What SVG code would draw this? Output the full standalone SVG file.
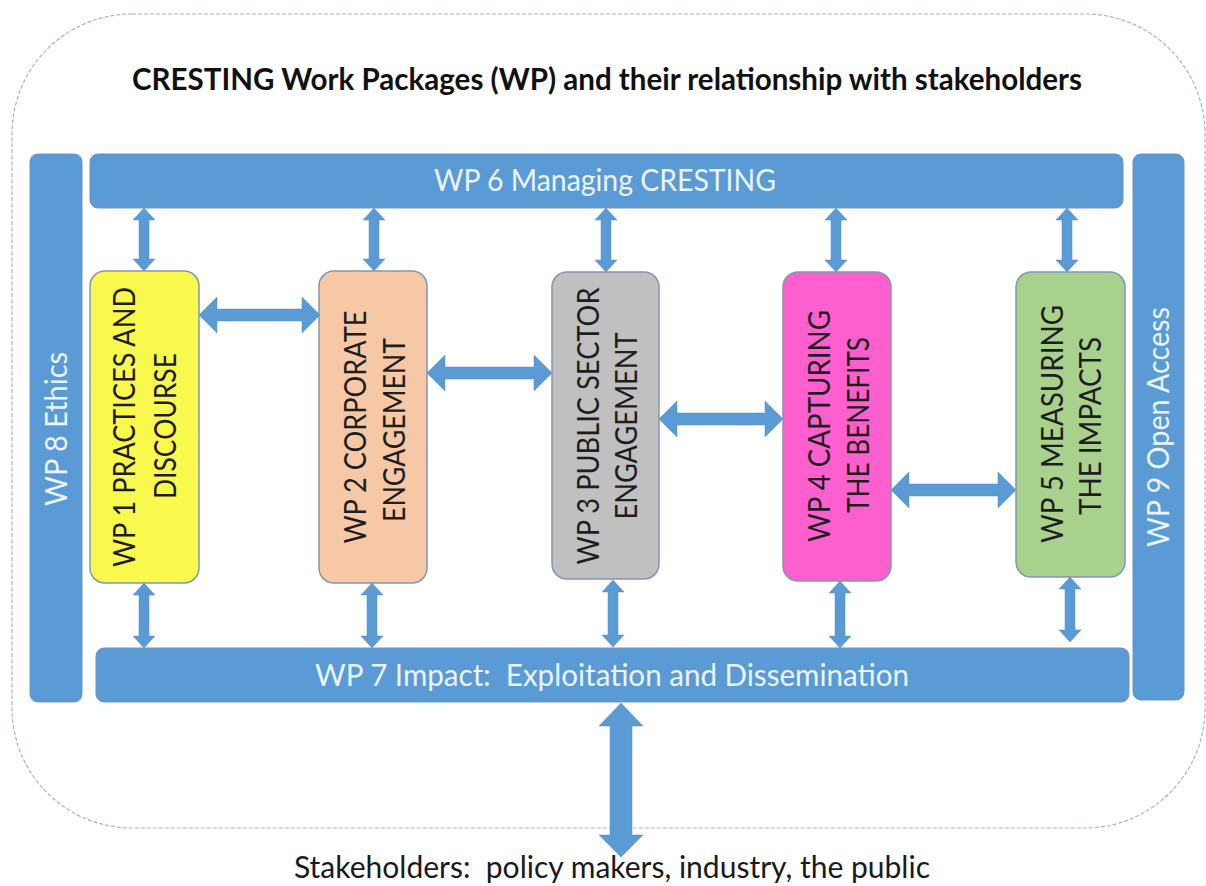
<svg xmlns="http://www.w3.org/2000/svg" width="1206" height="886" viewBox="0 0 1206 886">
<style>
  .bar { fill: #5b9bd5; stroke: #6f93bd; stroke-width: 1; }
  .box { stroke: #8497b0; stroke-width: 1.5; }
  .arrow { fill: #5b9bd5; stroke: #5a8fc4; stroke-width: 0.5; }
  .wt { font-family: Lato, "Open Sans", "Liberation Sans", sans-serif; font-size: 30px; fill: #eaf4ff; text-anchor: middle; }
  .bt { font-family: Lato, "Open Sans", "Liberation Sans", sans-serif; font-size: 30px; fill: #1e1e1e; text-anchor: middle; }
  .title { font-family: Lato, "Open Sans", "Liberation Sans", sans-serif; font-size: 30px; font-weight: bold; fill: #111111; text-anchor: middle; }
  .foot { font-family: Lato, "Open Sans", "Liberation Sans", sans-serif; font-size: 30px; fill: #1a1a1a; text-anchor: middle; }
</style>

<rect id="frame" x="12" y="14" width="1193" height="814" rx="120" ry="120" fill="#ffffff" stroke="#a3b6ca" stroke-width="1.2" stroke-dasharray="4 2"/>

<text id="title" class="title" x="607" y="90" textLength="950" lengthAdjust="spacingAndGlyphs">CRESTING Work Packages (WP) and their relationship with stakeholders</text>

<g id="wp8">
  <rect class="bar" x="30" y="154" width="52" height="548" rx="8"/>
  <text class="wt" transform="translate(67,429) rotate(-90)" textLength="154" lengthAdjust="spacingAndGlyphs">WP 8 Ethics</text>
</g>

<g id="wp9">
  <rect class="bar" x="1133" y="154" width="51" height="546" rx="8"/>
  <text class="wt" transform="translate(1169,427) rotate(-90)" textLength="240" lengthAdjust="spacingAndGlyphs">WP 9 Open Access</text>
</g>

<g id="wp6">
  <rect class="bar" x="90" y="154" width="1033" height="54" rx="8"/>
  <text class="wt" x="605" y="191" textLength="342" lengthAdjust="spacingAndGlyphs">WP 6 Managing CRESTING</text>
</g>

<g id="wp7">
  <rect class="bar" x="96" y="648" width="1033" height="54" rx="8"/>
  <text class="wt" x="612" y="686" xml:space="preserve" textLength="594" lengthAdjust="spacingAndGlyphs">WP 7 Impact:  Exploitation and Dissemination</text>
</g>

<g id="wp1">
  <rect class="box" x="90" y="271" width="109" height="312" rx="15" fill="#f9f84c"/>
  <text class="bt" transform="translate(135,427) rotate(-90)" textLength="280" lengthAdjust="spacingAndGlyphs">WP 1 PRACTICES AND</text>
  <text class="bt" transform="translate(176,426) rotate(-90)" textLength="146" lengthAdjust="spacingAndGlyphs">DISCOURSE</text>
</g>

<g id="wp2">
  <rect class="box" x="319" y="271" width="108" height="312" rx="15" fill="#f7c8a6"/>
  <text class="bt" transform="translate(366,427) rotate(-90)" textLength="233" lengthAdjust="spacingAndGlyphs">WP 2 CORPORATE</text>
  <text class="bt" transform="translate(405,430) rotate(-90)" textLength="184" lengthAdjust="spacingAndGlyphs">ENGAGEMENT</text>
</g>

<g id="wp3">
  <rect class="box" x="552" y="272" width="107" height="307" rx="15" fill="#c0c0c0"/>
  <text class="bt" transform="translate(599,426) rotate(-90)" textLength="277" lengthAdjust="spacingAndGlyphs">WP 3 PUBLIC SECTOR</text>
  <text class="bt" transform="translate(637,426) rotate(-90)" textLength="187" lengthAdjust="spacingAndGlyphs">ENGAGEMENT</text>
</g>

<g id="wp4">
  <rect class="box" x="783" y="272" width="108" height="309" rx="15" fill="#fe5fcf"/>
  <text class="bt" transform="translate(830,426) rotate(-90)" textLength="232" lengthAdjust="spacingAndGlyphs">WP 4 CAPTURING</text>
  <text class="bt" transform="translate(869,425) rotate(-90)" textLength="176" lengthAdjust="spacingAndGlyphs">THE BENEFITS</text>
</g>

<g id="wp5">
  <rect class="box" x="1016" y="272" width="109" height="305" rx="15" fill="#a9d18e"/>
  <text class="bt" transform="translate(1063,424) rotate(-90)" textLength="238" lengthAdjust="spacingAndGlyphs">WP 5 MEASURING</text>
  <text class="bt" transform="translate(1101,426) rotate(-90)" textLength="178" lengthAdjust="spacingAndGlyphs">THE IMPACTS</text>
</g>

<g id="connectors">
  <polygon class="arrow" points="144,208 155,220 149,220 149,259 155,259 144,271 133,259 139,259 139,220 133,220"/>
  <polygon class="arrow" points="374,208 385,220 379,220 379,259 385,259 374,271 363,259 369,259 369,220 363,220"/>
  <polygon class="arrow" points="606,208 617,220 611,220 611,260 617,260 606,272 595,260 601,260 601,220 595,220"/>
  <polygon class="arrow" points="836,208 847,220 841,220 841,260 847,260 836,272 825,260 831,260 831,220 825,220"/>
  <polygon class="arrow" points="1067,208 1078,220 1072,220 1072,260 1078,260 1067,272 1056,260 1062,260 1062,220 1056,220"/>
  <polygon class="arrow" points="144,583 155,595 149,595 149,636 155,636 144,648 133,636 139,636 139,595 133,595"/>
  <polygon class="arrow" points="372,583 383,595 377,595 377,636 383,636 372,648 361,636 367,636 367,595 361,595"/>
  <polygon class="arrow" points="613,580 624,592 618,592 618,635 624,635 613,647 602,635 608,635 608,592 602,592"/>
  <polygon class="arrow" points="840,581 851,593 845,593 845,636 851,636 840,648 829,636 835,636 835,593 829,593"/>
  <polygon class="arrow" points="1070,577 1081,589 1075,589 1075,630 1081,630 1070,642 1059,630 1065,630 1065,589 1059,589"/>
  <polygon class="arrow" points="199,315 217,297 217,309 302,309 302,297 320,315 302,333 302,321 217,321 217,333"/>
  <polygon class="arrow" points="427,373 445,355 445,367 534,367 534,355 552,373 534,391 534,379 445,379 445,391"/>
  <polygon class="arrow" points="659,419 677,401 677,413 765,413 765,401 783,419 765,437 765,425 677,425 677,437"/>
  <polygon class="arrow" points="891,490 909,472 909,484 998,484 998,472 1016,490 998,508 998,496 909,496 909,508"/>
  <polygon class="arrow" points="621,703 643,726 632,726 632,835 643,835 621,857 599,835 610,835 610,726 599,726"/>
</g>

<text id="stakeholders" class="foot" x="612" y="878" xml:space="preserve" textLength="636" lengthAdjust="spacingAndGlyphs">Stakeholders:  policy makers, industry, the public</text>
</svg>
